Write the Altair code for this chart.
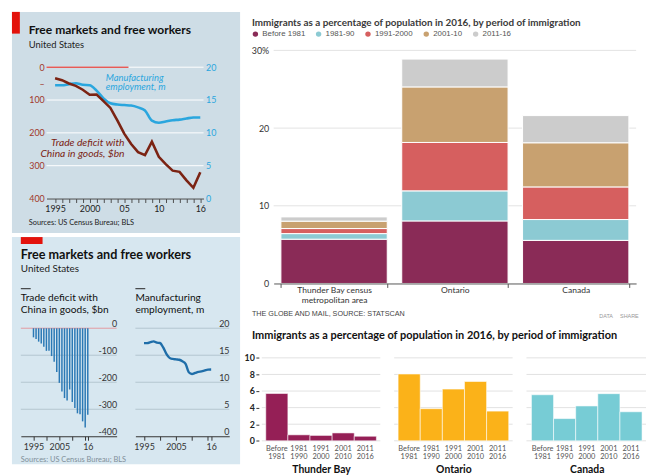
import altair as alt
import pandas as pd

# ---------------- data ----------------
YEARS = list(range(1995, 2017))
DEFICIT_BN = [33.8, 39.5, 49.7, 56.9, 68.7, 83.8, 83.1, 103.1, 124.1, 162.3, 202.3,
              234.1, 258.5, 268.0, 226.9, 273.0, 295.3, 315.1, 318.7, 344.8, 367.3, 320.0]
MANUF_M = [17.24, 17.24, 17.42, 17.56, 17.32, 17.26, 16.44, 15.26, 14.51, 14.31, 14.23,
           14.16, 13.88, 13.41, 11.85, 11.53, 11.73, 11.93, 12.02, 12.19, 12.34, 12.35]

TL_LEFT_TICKS = [0, 50, 100, 200, 300, 400]
TL_RIGHT_TICKS = [0, 5, 10, 15, 20]
TL_GRID = [0, 100, 200, 300]
TL_X_LABEL_YEARS = [1995, 2000, 2005, 2010, 2016]
TL_X_LABEL_TEXT = ["1995", "2000", "05", "10", "16"]

BL_DEF_TICKS = [0, -100, -200, -300, -400]
BL_DEF_GRID = [-100, -200, -300]
BL_EMP_TICKS = [0, 5, 10, 15, 20]
BL_EMP_GRID = [5, 10, 15, 20]
BL_X_TICKS = [1995, 2000, 2005, 2010, 2015, 2016]
BL_X_LABEL_YEARS = [1995, 2005, 2016]
BL_X_LABEL_TEXT = ["1995", "2005", "16"]

PLACES = ["Thunder Bay", "Ontario", "Canada"]
PLACE_AXIS_LABELS = ["Thunder Bay census|metropolitan area", "Ontario", "Canada"]
PERIODS = ["Before 1981", "1981-90", "1991-2000", "2001-10", "2011-16"]
PERIOD_AXIS_LABELS = ["Before|1981", "1981|1990", "1991|2000", "2001|2010", "2011|2016"]
THUNDER_BAY = [5.7, 0.72, 0.65, 0.95, 0.55]
ONTARIO = [8.05, 3.87, 6.23, 7.15, 3.58]
CANADA = [5.55, 2.68, 4.2, 5.68, 3.5]
TR_TICKS = [0, 10, 20, 30]
TR_GRID = [10, 20, 30]
BR_TICKS = [0, 2, 4, 6, 8, 10]

PERIOD_COLORS = ["#8a2b57", "#8ccad3", "#d65f5f", "#c8a170", "#cccccc"]
PLACE_COLORS = ["#951f56", "#fbb219", "#77ccd5"]

# ---------------- helpers ----------------
W, H = 646, 468
ECO = "Lato"
GLB = "Lato"
GLB_R = "Liberation Sans"


def mapping_expr(keys, texts, quote=False):
    expr = "''"
    for k, t in reversed(list(zip(keys, texts))):
        kk = f"'{k}'" if quote else str(k)
        expr = f"(datum.value == {kk} ? '{t}' : {expr})"
    return expr


def one():
    return pd.DataFrame({"k": [0]})


def rect(x1, x2, y1, y2, color):
    return alt.Chart(one()).mark_rect(color=color).encode(
        x=alt.value(x1), x2=alt.value(x2), y=alt.value(y1), y2=alt.value(y2))


def seg(x1, x2, y, color, width=1):
    return alt.Chart(one()).mark_rule(color=color, strokeWidth=width).encode(
        x=alt.value(x1), x2=alt.value(x2), y=alt.value(y))


def label(text, x, y, size, color, font=ECO, weight="normal", style="normal", align="left"):
    return alt.Chart(pd.DataFrame({"t": [text]})).mark_text(
        align=align, baseline="alphabetic", font=font, fontSize=size, fontWeight=weight,
        fontStyle=style, color=color).encode(x=alt.value(x), y=alt.value(y), text="t:N")


def grid(values, scale, x1, x2, color, width=1):
    return alt.Chart(pd.DataFrame({"v": values})).mark_rule(color=color, strokeWidth=width).encode(
        x=alt.value(x1), x2=alt.value(x2), y=alt.Y("v:Q", scale=scale, axis=None))


L = []

# ================= top-left: Economist line chart =================
TL_BG = "#cedde6"
L += [rect(4, 235, 1, 225, TL_BG), rect(4, 12, 1, 23, "#e3120b")]
L += [label("Free markets and free workers", 21, 23, 12.2, "#111", weight="bold"),
      label("United States", 21, 38, 9.5, "#222")]
TLX = alt.Scale(domain=[1993.76, 2016.47], range=[39, 198], nice=False, zero=False)
TLYL = alt.Scale(domain=[0, 400], range=[57, 190], nice=False, zero=False)
TLYR = alt.Scale(domain=[0, 20], range=[190, 57], nice=False, zero=False)
L += [grid(TL_GRID, TLYL, 39, 198, "white"), grid([0], TLYL, 39, 122, "#e3120b")]

tl = pd.DataFrame({"year": YEARS, "deficit": DEFICIT_BN, "manuf": MANUF_M})
L.append(alt.Chart(tl).mark_line(color="#2aa6de", strokeWidth=2.6, interpolate="monotone").encode(
    x=alt.X("year:Q", scale=TLX, axis=None),
    y=alt.Y("manuf:Q", scale=TLYR, axis=alt.Axis(
        orient="right", offset=200 - W, values=TL_RIGHT_TICKS, title=None, grid=False,
        domain=False, ticks=False, tickSize=0, labelPadding=0, labelFont=ECO,
        labelFontSize=9, labelColor="#2aa6de", labelAlign="left", labelBaseline="middle",
        zindex=1))))
L.append(alt.Chart(tl).mark_line(color="#7b2313", strokeWidth=2.6).encode(
    x=alt.X("year:Q", scale=TLX, axis=alt.Axis(
        orient="bottom", offset=190 - H, values=YEARS,
        labelExpr=mapping_expr(TL_X_LABEL_YEARS, TL_X_LABEL_TEXT), title=None, grid=False,
        domainColor="#4d4d4d", tickColor="#4d4d4d", tickSize=4, labelFont=ECO,
        labelFontSize=9, labelColor="#222", labelPadding=2, labelOverlap=False,
        labelFlush=False, zindex=1)),
    y=alt.Y("deficit:Q", scale=TLYL, axis=alt.Axis(
        orient="left", offset=-36.7, values=TL_LEFT_TICKS,
        labelExpr="datum.value == 50 ? '\u2013' : datum.label", title=None, grid=False,
        domain=False, ticks=False, tickSize=0, labelPadding=0, labelFont=ECO,
        labelFontSize=9, labelColor="#a1382b", labelAlign="right", labelBaseline="middle",
        zindex=1))))
L += [label("Manufacturing", 99, 70.5, 9.5, "#2aa6de", style="italic"),
      label("employment, m", 99, 80.5, 9.5, "#2aa6de", style="italic"),
      label("Trade deficit with", 118, 136.8, 10.4, "#7b2313", style="italic", align="right"),
      label("China in goods, $bn", 118, 148, 10.4, "#7b2313", style="italic", align="right"),
      label("Sources: US Census Bureau; BLS", 21, 217, 7.5, "#222")]

# ================= bottom-left: Economist small multiples =================
BL_BG = "#d7e7f0"
L += [rect(4, 235, 229, 459, BL_BG), rect(13, 35, 229, 236, "#e3120b")]
L += [label("Free markets and free workers", 13, 251.5, 12.8, "#111", weight="bold"),
      label("United States", 13, 264.5, 10, "#222"),
      seg(13, 23, 281.3, "#222"), seg(129, 139, 281.3, "#222"),
      label("Trade deficit with", 13, 294, 10.3, "#111"),
      label("China in goods, $bn", 13, 306, 10.3, "#111"),
      label("Manufacturing", 129, 294, 10.3, "#111"),
      label("employment, m", 129, 306, 10.3, "#111")]
BLXD = alt.Scale(domain=[1992.02, 2025.25], range=[13, 110], nice=False, zero=False)
BLYD = alt.Scale(domain=[-400, 0], range=[430.7, 321.3], nice=False, zero=False)
BLXE = alt.Scale(domain=[1992.31, 2021.65], range=[129, 224], nice=False, zero=False)
BLYE = alt.Scale(domain=[0, 20], range=[430.7, 321.3], nice=False, zero=False)
GRID_BL = "#b4c5cf"
L += [grid(BL_DEF_GRID, BLYD, 13, 110, GRID_BL), grid([0], BLYD, 13, 110, "#e49a9f"),
      grid(BL_EMP_GRID, BLYE, 129, 224, GRID_BL)]

bl = pd.DataFrame({"year": YEARS, "neg": [-d for d in DEFICIT_BN], "manuf": MANUF_M})
bl_xaxis = dict(orient="bottom", offset=430.7 - H, values=BL_X_TICKS, title=None, grid=False,
                domainColor="#333", tickColor="#333", tickSize=4, labelFont=ECO,
                labelFontSize=9, labelColor="#333", labelPadding=2, labelOverlap=False,
                labelFlush=False, zindex=1,
                labelExpr=mapping_expr(BL_X_LABEL_YEARS, BL_X_LABEL_TEXT))
bl_yaxis = dict(orient="right", title=None, grid=False, domain=False, ticks=False, tickSize=0,
                labelPadding=0, labelFont=ECO, labelFontSize=9, labelColor="#333",
                labelAlign="right", labelBaseline="alphabetic", labelOffset=-2, zindex=1,
                labelExpr="'' + datum.value")
L.append(alt.Chart(bl).mark_bar(size=1.5, color="#2b79b5").encode(
    x=alt.X("year:Q", scale=BLXD, axis=alt.Axis(**bl_xaxis)),
    y=alt.Y("neg:Q", scale=BLYD, axis=alt.Axis(offset=110 - W, values=BL_DEF_TICKS, **bl_yaxis)),
    y2=alt.datum(0)))
L.append(alt.Chart(bl).mark_line(color="#1f6ea9", strokeWidth=2.4, interpolate="monotone").encode(
    x=alt.X("year:Q", scale=BLXE, axis=alt.Axis(**bl_xaxis)),
    y=alt.Y("manuf:Q", scale=BLYE, axis=alt.Axis(offset=223.7 - W, values=BL_EMP_TICKS, **bl_yaxis))))
L.append(label("Sources: US Census Bureau; BLS", 13, 456.5, 7.5, "#7f8f99"))

# ================= top-right: stacked bars =================
rows = []
for place, vals in zip(PLACES, [THUNDER_BAY, ONTARIO, CANADA]):
    for i, (p, v) in enumerate(zip(PERIODS, vals)):
        rows.append({"place": place, "period": p, "idx": i, "value": v})
imm = pd.DataFrame(rows)

TRX = alt.Scale(domain=PLACES, range=[269, 636], paddingInner=0.12, paddingOuter=0.06)
TRY = alt.Scale(domain=[0, 30], range=[276, 40], nice=False, zero=False)
L += [label("Immigrants as a percentage of population in 2016, by period of immigration",
            247, 15.5, 10, "#3a3a3a", font=GLB, weight="bold"),
      grid(TR_GRID, TRY, 269, 636, "#e3e3e3")]
L.append(alt.Chart(imm).mark_bar(stroke="white", strokeWidth=1).encode(
    x=alt.X("place:N", scale=TRX, axis=alt.Axis(
        orient="bottom", offset=276 - H, title=None, grid=False, domainColor="#555",
        tickColor="#555", tickSize=4, tickBand="extent", labelAngle=0,
        labelExpr="split(" + mapping_expr(PLACES, PLACE_AXIS_LABELS, quote=True) + ", '|')",
        labelFont=GLB, labelFontSize=8.6, labelColor="#333", labelPadding=-1.5,
        labelLineHeight=9.6, labelOverlap=False, zindex=1)),
    y=alt.Y("value:Q", stack="zero", scale=TRY, axis=alt.Axis(
        orient="left", offset=-264, values=TR_TICKS,
        labelExpr="datum.value == 30 ? '30%' : datum.label", title=None, grid=False,
        domain=False, ticks=False, tickSize=0, labelPadding=0, labelFont=GLB,
        labelFontSize=9, labelColor="#333", labelAlign="right", labelBaseline="middle",
        zindex=1)),
    color=alt.Color("period:N", scale=alt.Scale(domain=PERIODS, range=PERIOD_COLORS),
                    legend=alt.Legend(orient="none", legendX=246.5, legendY=19.5,
                                      direction="horizontal", title=None, symbolType="circle",
                                      symbolSize=30, symbolStrokeWidth=0, labelFont=GLB_R,
                                      labelFontSize=8, labelColor="#555", labelOffset=3,
                                      columnPadding=9, padding=0)),
    order=alt.Order("idx:Q", sort="ascending")))
L += [label("THE GLOBE AND MAIL, SOURCE: STATSCAN", 247, 308.7, 7.3, "#444", font=GLB_R),
      label("DATA", 598.7, 310.7, 5.5, "#999", font=GLB_R),
      label("SHARE", 619.7, 310.7, 5.5, "#999", font=GLB_R)]

# ================= bottom-right: small multiples =================
BRY = alt.Scale(domain=[0, 10], range=[435.3, 351.3], nice=False, zero=False)
L.append(label("Immigrants as a percentage of population in 2016, by period of immigration",
               247, 332.5, 11.1, "#111", font=GLB, weight="bold"))
PANEL_GRID = [(257, 377), (391, 511), (525, 650)]
PANEL_BARS = [(261, 373), (395, 507), (530, 642)]
for j, (place, col) in enumerate(zip(PLACES, PLACE_COLORS)):
    gx1, gx2 = PANEL_GRID[j]
    L.append(grid(BR_TICKS, BRY, gx1, gx2, "#e2e2e2"))
    xs = alt.Scale(domain=PERIODS, range=list(PANEL_BARS[j]), paddingInner=0, paddingOuter=0)
    yaxis = None
    if j == 0:
        yaxis = alt.Axis(orient="left", offset=-254, values=BR_TICKS, title=None, grid=False,
                         domain=False, tickSize=3, tickColor="#333", labelPadding=1.5,
                         labelFont=GLB, labelFontSize=9, labelFontWeight="bold",
                         labelColor="#222", labelBaseline="middle", zindex=1)
    L.append(alt.Chart(imm[imm.place == place]).mark_bar(
        color=col, stroke="white", strokeWidth=0.8, strokeOpacity=0.7).encode(
        x=alt.X("period:N", scale=xs, axis=alt.Axis(
            orient="bottom", offset=435.3 - H, domain=False, ticks=False, grid=False,
            labelAngle=0, labelOverlap=False,
            labelExpr="split(" + mapping_expr(PERIODS, PERIOD_AXIS_LABELS, quote=True) + ", '|')",
            labelFont=GLB, labelFontSize=7.5, labelColor="#555", labelPadding=3.5,
            labelLineHeight=8.7, title=place, titleFont=GLB, titleFontSize=10.5,
            titleFontWeight="bold", titleColor="#111", titlePadding=4, zindex=1)),
        y=alt.Y("value:Q", scale=BRY, axis=yaxis)))

chart = alt.layer(*L).resolve_scale(
    x="independent", y="independent", color="independent"
).resolve_axis(x="independent", y="independent").resolve_legend(
    color="independent"
).properties(
    width=W, height=H, autosize=alt.AutoSizeParams(type="none"), padding=0,
    background="white"
).configure_view(stroke=None)

chart.save("out.html", embed_options={"renderer": "svg", "actions": False})
